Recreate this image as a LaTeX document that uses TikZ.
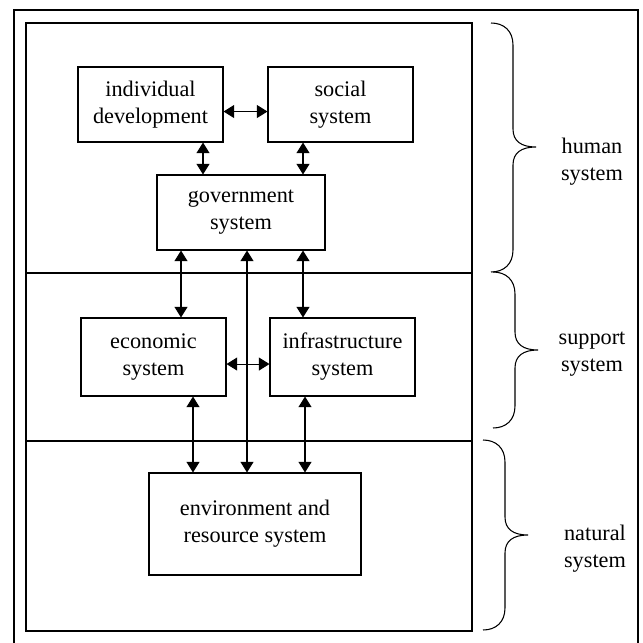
\documentclass[tikz,border=0pt]{standalone}
\usepackage{fontspec}
\setmainfont{Liberation Serif}
\usetikzlibrary{arrows.meta}
\begin{document}
\begin{tikzpicture}[x=0.03cm,y=-0.03cm,line width=0.9pt]
\tikzstyle{every node}+=[font=\fontsize{19}{23}\selectfont]
\tikzstyle{sysbox}=[draw,black,align=center,inner sep=0pt]
\tikzstyle{link}=[black,{Triangle[width=11pt,length=9pt]}-{Triangle[width=11pt,length=9pt]}]
\useasboundingbox (0,0) rectangle (642,643);
\draw [black] (14,643) -- (14,10) -- (638,10) -- (638,643);
\draw [black] (26,23) rectangle (472,631);
\draw [black] (26,273) -- (472,273);
\draw [black] (26,441) -- (472,441);
\node [sysbox,minimum width=4.35cm,minimum height=2.25cm] (indiv) at (150.5,104.5) {individual\\development};
\node [sysbox,minimum width=4.35cm,minimum height=2.25cm] (social) at (340.5,104.5) {social\\system};
\node [sysbox,minimum width=5.04cm,minimum height=2.25cm] (gov) at (241,212.5) {government\\system};
\node [sysbox,minimum width=4.35cm,minimum height=2.34cm] (econ) at (153.5,357) {economic\\system};
\node [sysbox,minimum width=4.35cm,minimum height=2.34cm] (infra) at (342.5,357) {infrastructure\\system};
\node [sysbox,minimum width=6.36cm,minimum height=3.06cm] (env) at (255,524) {environment and\\resource system};
\draw [link] ([yshift=-6pt]indiv.east) -- ([yshift=-6pt]social.west);
\draw [link] (203,0 |- indiv.south) -- (203,0 |- gov.north);
\draw [link] (303,0 |- social.south) -- (303,0 |- gov.north);
\draw [link] (181,0 |- gov.south) -- (181,0 |- econ.north);
\draw [link] (247,0 |- gov.south) -- (247,0 |- env.north);
\draw [link] (303,0 |- gov.south) -- (303,0 |- infra.north);
\draw [link] ([yshift=-6pt]econ.east) -- ([yshift=-6pt]infra.west);
\draw [link] (193,0 |- econ.south) -- (193,0 |- env.north);
\draw [link] (305,0 |- infra.south) -- (305,0 |- env.north);
% braces: end x, top, tip, bottom
\foreach \bx/\ba/\bm/\bb in {491/23/147/272, 493/272/350/428, 483/440/535/630}
  \draw [black] (\bx,\ba) .. controls (\bx+13,\ba) and (\bx+22,\ba+8) .. (\bx+22,\ba+22)
    -- (\bx+22,\bm-18) .. controls (\bx+22,\bm-6) and (\bx+30,\bm) .. (\bx+45,\bm)
    .. controls (\bx+30,\bm) and (\bx+22,\bm+6) .. (\bx+22,\bm+18)
    -- (\bx+22,\bb-22) .. controls (\bx+22,\bb-8) and (\bx+13,\bb) .. (\bx,\bb);
\node [align=center] (human) at (592,162) {human\\system};
\node [align=center] (support) at (592,354) {support\\system};
\node [align=center] (natural) at (595,549) {natural\\system};
\end{tikzpicture}
\end{document}
